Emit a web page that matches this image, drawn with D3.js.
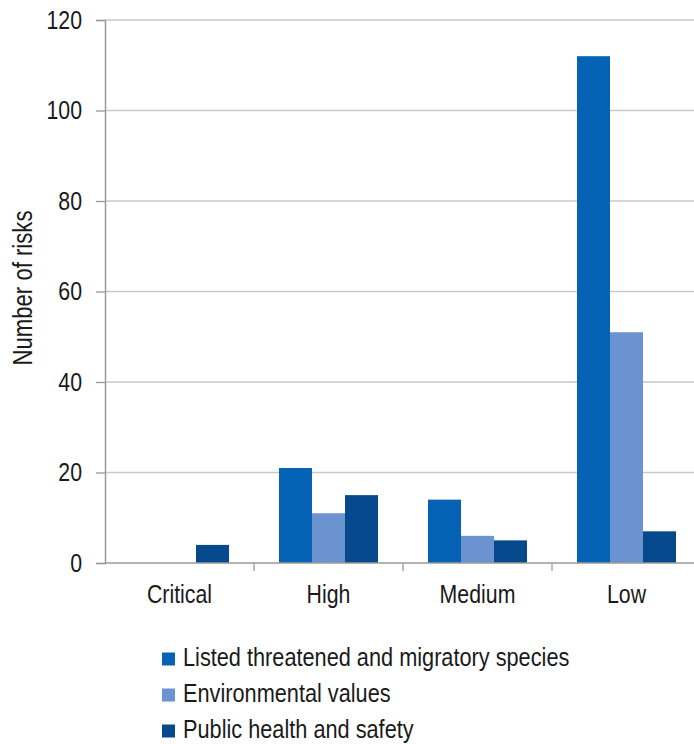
<!DOCTYPE html>
<html><head><meta charset="utf-8">
<script src="https://cdn.jsdelivr.net/npm/d3@7"></script>
<style>body{margin:0;background:#fff}svg{display:block}text{font-family:"Liberation Sans",Arial,sans-serif;fill:#1a1a1a}</style>
</head><body><svg id="c" width="694" height="744"></svg>
<script>
const categories = ["Critical","High","Medium","Low"];
const seriesNames = ["Listed threatened and migratory species","Environmental values","Public health and safety"];
const listedValues = [0,21,14,112];
const environmentalValues = [0,11,6,51];
const publicValues = [4,15,5,7];
const yTicks = [0,20,40,60,80,100,120];
const colors = ["#0562b4","#6b93cf","#064a8d"];
const seriesValues = [listedValues, environmentalValues, publicValues];

(function(){
const svg = d3.select("#c");
const mLeft = 105, mRight = 701, mTop = 20, mBottom = 563;
const SX = 0.82;
const x = d3.scaleBand().domain(categories).range([mLeft,mRight]).paddingInner(0).paddingOuter(0);
const y = d3.scaleLinear().domain([0,120]).range([mBottom,mTop]);
const xs = d3.scaleBand().domain(d3.range(3)).range([0,x.bandwidth()]).paddingInner(0).paddingOuter(25/33);

svg.append("g").selectAll("line").data(yTicks.filter(d=>d>0)).join("line")
  .attr("x1",mLeft).attr("x2",694).attr("y1",d=>y(d)).attr("y2",d=>y(d))
  .attr("stroke","#c9c9c9").attr("stroke-width",1.3);

const ya = svg.append("g").attr("transform",`translate(${mLeft},0)`)
  .call(d3.axisLeft(y).tickValues(yTicks).tickSize(9).tickPadding(14));
ya.select(".domain").attr("stroke","#9a9a9a").attr("stroke-width",1.5);
ya.selectAll(".tick line").attr("stroke","#9a9a9a").attr("stroke-width",1.3);
ya.selectAll(".tick text").style("font-size","26px").attr("fill","#1a1a1a")
  .style("font-family","'Liberation Sans',Arial,sans-serif")
  .attr("x",null).attr("transform",`translate(-23,0) scale(${SX},1)`);

seriesValues.forEach((vals,si)=>{
  svg.append("g").selectAll("rect").data(categories).join("rect")
    .attr("x",c=>x(c)+xs(si)).attr("width",xs.bandwidth())
    .attr("y",(c,i)=>y(vals[i])).attr("height",(c,i)=>mBottom-y(vals[i]))
    .attr("fill",colors[si]);
});

svg.append("line").attr("x1",mLeft).attr("x2",694).attr("y1",mBottom).attr("y2",mBottom)
  .attr("stroke","#9a9a9a").attr("stroke-width",1.5);
svg.append("g").selectAll("line").data(categories.slice(1)).join("line")
  .attr("x1",c=>x(c)).attr("x2",c=>x(c)).attr("y1",mBottom).attr("y2",mBottom+8)
  .attr("stroke","#9a9a9a").attr("stroke-width",1.3);
svg.append("g").selectAll("text").data(categories).join("text")
  .attr("transform",c=>`translate(${x(c)+x.bandwidth()/2},603) scale(${SX},1)`).attr("text-anchor","middle")
  .style("font-size","26px").text(c=>c);

svg.append("text").attr("transform",`translate(32,288) rotate(-90) scale(${SX},1)`).attr("text-anchor","middle")
  .style("font-size","27px").text("Number of risks");

const lg = svg.append("g").selectAll("g").data(seriesNames).join("g")
  .attr("transform",(d,i)=>`translate(162,${665.5+i*36})`);
lg.append("rect").attr("x",0).attr("y",-13).attr("width",13).attr("height",13).attr("fill",(d,i)=>colors[i]);
lg.append("text").attr("transform",`translate(21,0) scale(${SX},1)`).style("font-size","26.5px").text(d=>d);
})();
</script></body></html>
